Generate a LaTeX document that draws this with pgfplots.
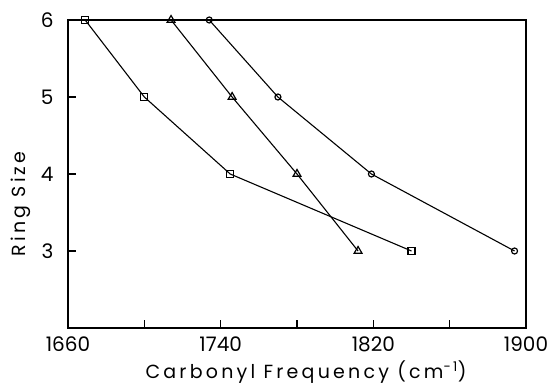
\documentclass[border=0pt]{standalone}
\usepackage{fontspec}
\setmainfont{Poppins}
\newfontfamily\lblfont[LetterSpace=17]{Poppins}
\usepackage{pgfplots}
\pgfplotsset{compat=1.18}
\begin{document}
\begin{tikzpicture}
\begin{axis}[name=ax,
  scale only axis, width=458pt, height=308pt,
  xmin=1660, xmax=1900, ymin=2, ymax=6,
  xtick={1660,1700,1740,1780,1820,1860,1900},
  xticklabels={1660,,1740,,1820,,1900},
  ytick={3,4,5,6},
  tick align=inside, major tick length=8pt,
  xtick pos=bottom, ytick pos=left,
  /pgf/number format/assume math mode=true,
  tick label style={font=\fontsize{20}{24}\selectfont},
  xticklabel style={yshift=-5pt},
  yticklabel style={xshift=-11pt},
  label style={font=\lblfont\fontsize{19}{22}\selectfont},
  xlabel={Carbonyl Frequency (cm\textsuperscript{-1})},
  ylabel={Ring Size},
  xlabel style={xshift=9pt, yshift=-2pt},
  ylabel style={yshift=3pt, xshift=-30pt},
  axis line style={line width=1.2pt},
  every tick/.style={black, line width=1.1pt},
  every axis plot/.append style={black, line width=1.1pt},
]
\addplot[mark=square, mark size=3.5pt, mark options={solid, fill=white, line width=1.2pt}] coordinates {(1669,6) (1700,5) (1745,4) (1840,3)};
\addplot[mark=triangle, mark size=4.5pt, mark options={solid, fill=white, line width=1.2pt}] coordinates {(1714,6) (1746,5) (1780,4) (1812,3)};
\addplot[mark=o, mark size=3pt, mark options={solid, fill=white, line width=1.2pt}] coordinates {(1734,6) (1770,5) (1819,4) (1894,3)};
\end{axis}
\pgfresetboundingbox
\path[use as bounding box] ([xshift=-68pt,yshift=-60pt]ax.south west) rectangle ([xshift=28pt,yshift=20pt]ax.north east);
\end{tikzpicture}
\end{document}
